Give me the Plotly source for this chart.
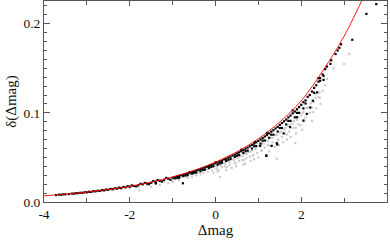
import plotly.graph_objects as go

# red model curve
curve_x = [-4.0, -3.5, -3.0, -2.5, -2.0, -1.5, -1.0, -0.5, 0.0, 0.5, 1.0, 1.5, 2.0, 2.5, 3.0, 3.5]
curve_y = [0.0070, 0.0088, 0.0111, 0.0140, 0.0176, 0.0222, 0.0280, 0.0354, 0.0447, 0.0563,
           0.0710, 0.0898, 0.1135, 0.1470, 0.1860, 0.2350]

# black points
black_x = [-3.72, -3.6, -3.5, -3.42, -3.3, -3.2, -3.1, -3.0, -2.9, -2.8, -2.7, -2.6, -2.5, -2.4,
           -2.3, -2.2, -2.1, -2.0, -1.9, -1.85, -1.8, -1.7, -1.6, -1.55, -1.5, -1.4, -1.39, -1.3,
           -1.25, -1.2, -1.1, -1.05, -1.0, -0.95, -0.9, -0.85, -0.8, -0.76, -0.75, -0.7, -0.65,
           -0.6, -0.55, -0.5, -0.45, -0.4, -0.35, -0.3, -0.25, -0.2, -0.15, -0.1, -0.05, 0.0,
           0.05, 0.1, 0.15, 0.2, 0.25, 0.3, 0.35, 0.4, 0.45, 0.5, 0.55, 0.6, 0.65, 0.7, 0.75,
           0.8, 0.85, 0.9, 0.92, 0.95, 1.0, 1.04, 1.05, 1.1, 1.15, 1.18, 1.19, 1.2, 1.25, 1.3,
           1.31, 1.35, 1.4, 1.43, 1.44, 1.45, 1.5, 1.55, 1.59, 1.6, 1.65, 1.7, 1.74, 1.75, 1.8,
           1.85, 1.9, 1.9, 1.95, 2.0, 2.05, 2.05, 2.1, 2.13, 2.2, 2.21, 2.27, 2.3, 2.37, 2.4,
           2.44, 2.44, 2.5, 2.52, 2.52, 2.56, 2.6, 2.68, 2.7, 2.8, 2.85, 2.89, 2.93, 3.19, 3.52,
           3.75]
black_y = [0.0078, 0.0082, 0.0086, 0.0089, 0.0094, 0.0099, 0.0103, 0.0108, 0.0113, 0.0119,
           0.0124, 0.0130, 0.0137, 0.0143, 0.0150, 0.0157, 0.0164, 0.0172, 0.0180, 0.0176,
           0.0188, 0.0197, 0.0207, 0.0200, 0.0216, 0.0227, 0.0209, 0.0238, 0.0230, 0.0249,
           0.0261, 0.0250, 0.0273, 0.0265, 0.0286, 0.0272, 0.0300, 0.0210, 0.0290, 0.0314,
           0.0300, 0.0329, 0.0318, 0.0344, 0.0330, 0.0360, 0.0345, 0.0378, 0.0362, 0.0396,
           0.0380, 0.0415, 0.0400, 0.0435, 0.0418, 0.0455, 0.0440, 0.0478, 0.0460, 0.0500,
           0.0482, 0.0522, 0.0505, 0.0545, 0.0525, 0.0570, 0.0550, 0.0598, 0.0575, 0.0625,
           0.0600, 0.0655, 0.0670, 0.0628, 0.0685, 0.0630, 0.0655, 0.0718, 0.0690, 0.0520,
           0.0520, 0.0750, 0.0720, 0.0790, 0.0630, 0.0755, 0.0825, 0.0660, 0.0645, 0.0790,
           0.0865, 0.0830, 0.0770, 0.0905, 0.0870, 0.0950, 0.0840, 0.0910, 0.0995, 0.0950,
           0.1040, 0.0950, 0.1000, 0.1090, 0.1050, 0.0913, 0.1140, 0.0988, 0.1200, 0.1060,
           0.1136, 0.1280, 0.1230, 0.1350, 0.1360, 0.1390, 0.1430, 0.1415, 0.1370, 0.1490,
           0.1520, 0.1550, 0.1590, 0.1660, 0.1700, 0.1730, 0.1770, 0.1820, 0.2110, 0.2220]

# dense black band hugging the curve
band_x = [-0.95, -0.85, -0.75, -0.65, -0.55, -0.45, -0.35, -0.25, -0.15, -0.05, 0.05, 0.15,
          0.25, 0.35, 0.45, 0.55, 0.65, 0.75, 0.85, 0.95, 1.05, 1.15, 1.25, 1.35, 1.45, 1.55,
          1.65, 1.75, 1.85, 1.95, 2.05, 2.15, 2.25, 2.35,
          -0.9, -0.7, -0.5, -0.3, -0.1, 0.1, 0.3, 0.5, 0.7, 0.9, 1.1, 1.3, 1.5, 1.7, 1.9, 2.1,
          2.3, -0.6, 0.0, 0.6, 1.2, 1.8, 2.4,
          -3.65, -3.55, -3.35, -3.25, -3.15, -3.05, -2.95, -2.85, -2.75, -2.65, -2.55, -2.45,
          -2.35, -2.25, -2.15, -2.05, -1.95, -1.75, -1.65, -1.45, -1.35, -1.15]
band_y = [0.0280, 0.0293, 0.0306, 0.0322, 0.0337, 0.0352, 0.0370, 0.0386, 0.0405, 0.0424,
          0.0444, 0.0463, 0.0485, 0.0508, 0.0530, 0.0556, 0.0582, 0.0610, 0.0640, 0.0670,
          0.0702, 0.0735, 0.0770, 0.0805, 0.0843, 0.0885, 0.0925, 0.0970, 0.1015, 0.1065,
          0.1120, 0.1180, 0.1240, 0.1310,
          0.0272, 0.0298, 0.0328, 0.0360, 0.0395, 0.0433, 0.0475, 0.0520, 0.0570, 0.0625,
          0.0688, 0.0755, 0.0830, 0.0910, 0.1000, 0.1105, 0.1225,
          0.0336, 0.0445, 0.0587, 0.0776, 0.1028, 0.1390,
          0.0082, 0.0086, 0.0094, 0.0099, 0.0104, 0.0109, 0.0115, 0.0121, 0.0127, 0.0133,
          0.0140, 0.0147, 0.0154, 0.0161, 0.0169, 0.0177, 0.0186, 0.0204, 0.0214, 0.0235,
          0.0246, 0.0270]

# grey points
grey_x = [-2.2, -2.0, -1.8, -1.77, -1.6, -1.5, -1.4, -1.3, -1.2, -1.1, -1.0, -1.0,
          -0.9, -0.85, -0.8, -0.7, -0.65, -0.6, -0.55, -0.5, -0.45, -0.4, -0.35, -0.3, -0.28,
          -0.2, -0.18, -0.1, -0.08, -0.05, 0.0, 0.02, 0.05,
          0.1, 0.11, 0.15, 0.2, 0.22, 0.25, 0.3, 0.33, 0.38, 0.4, 0.45, 0.48, 0.5, 0.55, 0.6,
          0.62, 0.65, 0.69, 0.7, 0.72, 0.78, 0.8, 0.82, 0.85, 0.88, 0.9, 0.95, 0.97, 1.0,
          1.05, 1.08, 1.1, 1.15, 1.2, 1.22, 1.25, 1.3, 1.33, 1.38, 1.4, 1.43, 1.45, 1.48, 1.5,
          1.55, 1.58, 1.6, 1.63, 1.67, 1.7, 1.72, 1.75, 1.8, 1.82, 1.86, 1.88, 1.9, 1.93, 1.98,
          2.0, 2.02, 2.05, 2.1, 2.15, 2.2, 2.25, 2.25, 2.3, 2.33, 2.35, 2.4, 2.44, 2.45, 2.5,
          2.55, 2.6, 2.75, 3.0, 3.12,
          0.03, 0.13, 0.23, 0.33, 0.43, 0.53, 0.63, 0.73, 0.83, 0.93, 1.03, 1.13, 1.23, 1.33,
          1.43, 1.53, 1.63, 1.73, 1.83, 1.93, 2.03, 2.13, 2.23, 2.33, 2.43,
          0.07, 0.27, 0.47, 0.67, 0.87, 1.07, 1.27, 1.47, 1.67, 1.87, 2.07, 2.27]
grey_y = [0.0145, 0.0155, 0.0165, 0.0130, 0.0185, 0.0170, 0.0205, 0.0190, 0.0225, 0.0210,
          0.0245, 0.0225,
          0.0260, 0.0245, 0.0275, 0.0290, 0.0270, 0.0310, 0.0285, 0.0320, 0.0300, 0.0335,
          0.0310, 0.0355, 0.0330, 0.0370, 0.0340, 0.0390, 0.0355, 0.0330, 0.0405, 0.0370,
          0.0340,
          0.0420, 0.0280, 0.0390, 0.0440, 0.0400, 0.0360, 0.0460, 0.0420, 0.0380, 0.0480,
          0.0440, 0.0400, 0.0500, 0.0460, 0.0520, 0.0470, 0.0420, 0.0430, 0.0540, 0.0490,
          0.0560, 0.0510, 0.0460, 0.0580, 0.0530, 0.0480, 0.0610, 0.0550, 0.0500,
          0.0630, 0.0580, 0.0660, 0.0610, 0.0690, 0.0640, 0.0570, 0.0720, 0.0670, 0.0620,
          0.0750, 0.0485, 0.0700, 0.0640, 0.0780, 0.0730, 0.0670, 0.0810, 0.0760, 0.0700,
          0.0850, 0.0790, 0.0730, 0.0880, 0.0830, 0.0660, 0.0770, 0.0920, 0.0870, 0.0860,
          0.0970, 0.0810, 0.1010, 0.0950, 0.1060, 0.1000, 0.0910, 0.1060, 0.1120, 0.1210,
          0.1050, 0.1180, 0.1170, 0.1100, 0.1250, 0.1310, 0.1380, 0.1500, 0.1550, 0.1660,
          0.0393, 0.0412, 0.0431, 0.0452, 0.0473, 0.0495, 0.0519, 0.0544, 0.0569, 0.0596,
          0.0625, 0.0655, 0.0686, 0.0719, 0.0754, 0.0790, 0.0828, 0.0868, 0.0910, 0.0953,
          0.0999, 0.1052, 0.1108, 0.1167, 0.1228,
          0.0360, 0.0395, 0.0432, 0.0474, 0.0521, 0.0573, 0.0630, 0.0691, 0.0758, 0.0832,
          0.0915, 0.1010]

FONT = "Liberation Serif"
AX = "#555555"

fig = go.Figure()
fig.add_trace(go.Scatter(x=grey_x, y=grey_y, mode="markers",
                         marker=dict(color="#cccccc", size=2.2, symbol="square", line=dict(width=0)),
                         hoverinfo="skip"))
fig.add_trace(go.Scatter(x=black_x + band_x, y=black_y + band_y, mode="markers",
                         marker=dict(color="#000000", size=2.2, symbol="square", line=dict(width=0)),
                         hoverinfo="skip"))
fig.add_trace(go.Scatter(x=curve_x, y=curve_y, mode="lines",
                         line=dict(color="#ff0000", width=0.9, shape="spline"),
                         hoverinfo="skip"))

fig.update_layout(
    width=390, height=242,
    margin=dict(l=44, r=3, t=1, b=40, autoexpand=False),
    paper_bgcolor="white", plot_bgcolor="white",
    showlegend=False,
    font=dict(family=FONT, size=13, color="#111111"),
)
fig.update_xaxes(
    range=[-4, 4], tickvals=[-4, -2, 0, 2, 4], ticktext=["-4", "-2", "0", "2", "4"],
    ticks="inside", ticklen=5, tickcolor=AX, showline=True, linecolor=AX,
    linewidth=1, mirror="allticks", showgrid=False, zeroline=False,
    minor=dict(ticks="inside", dtick=1, ticklen=4, tickcolor=AX, showgrid=False),
    title=dict(text="Δmag", font=dict(family=FONT, size=15), standoff=1),
    tickfont=dict(family=FONT, size=13.5), automargin=False,
)
fig.update_yaxes(
    range=[0, 0.2255], tickvals=[0.0, 0.1, 0.2], ticktext=["0.0", "0.1", "0.2"],
    ticks="inside", ticklen=6, tickcolor=AX, showline=True, linecolor=AX,
    linewidth=1, mirror="allticks", showgrid=False, zeroline=False,
    minor=dict(ticks="inside", dtick=0.01, ticklen=3, tickcolor=AX, showgrid=False),
    title=dict(text="δ(Δmag)", font=dict(family=FONT, size=15), standoff=3),
    tickfont=dict(family=FONT, size=13.5), automargin=False,
)

fig.write_html("out.html", config={"displayModeBar": False},
               post_script="document.body.style.margin='0';")
